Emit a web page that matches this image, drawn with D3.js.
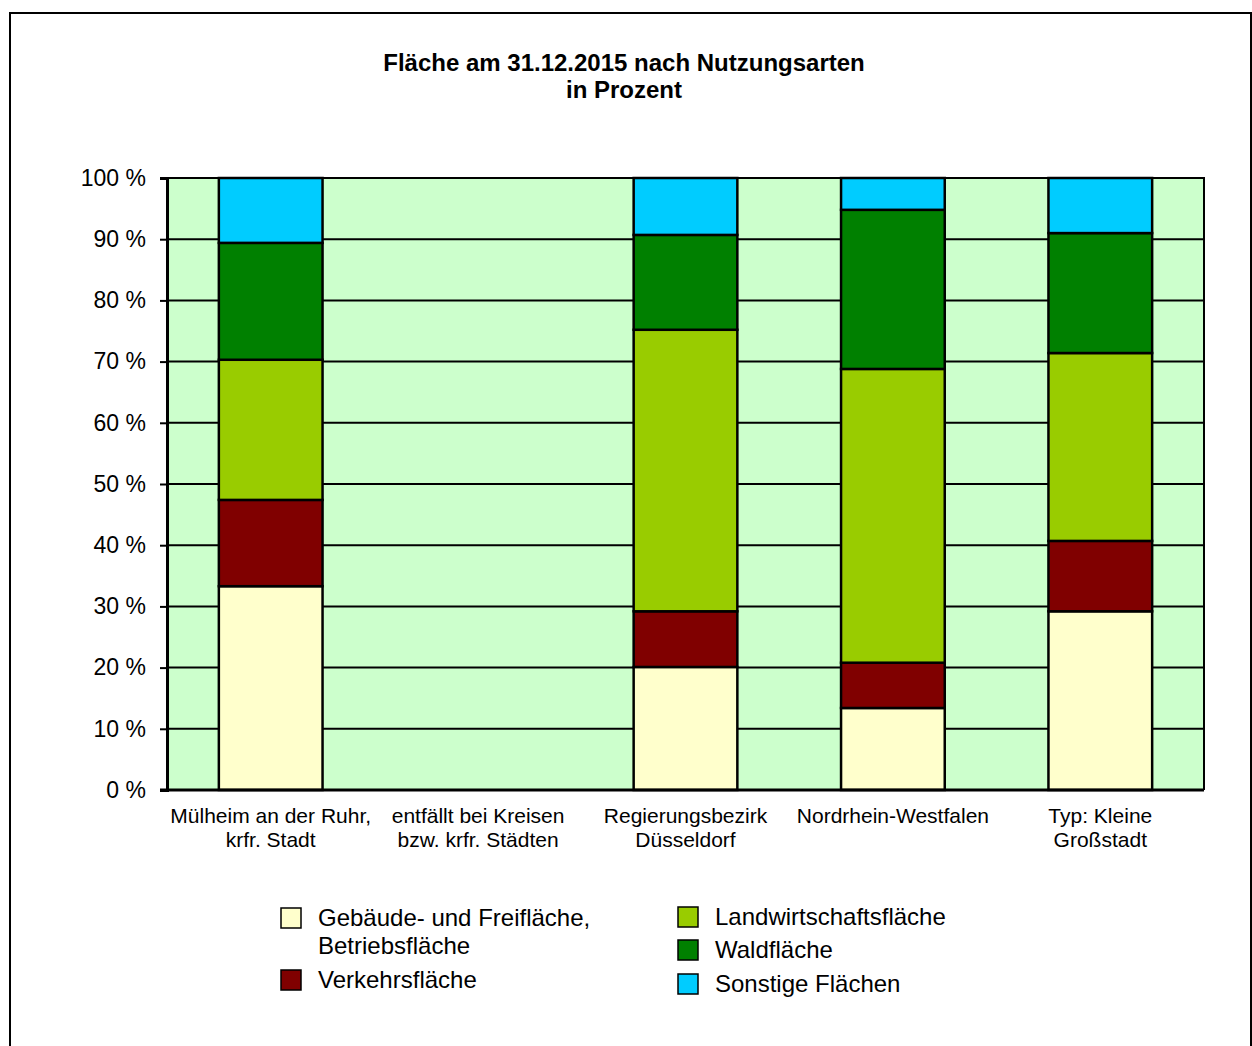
<!DOCTYPE html>
<html>
<head>
<meta charset="utf-8">
<script src="https://cdn.jsdelivr.net/npm/d3@7"></script>
<style>
  body { margin: 0; background: #fff; }
  svg { display: block; font-family: "Liberation Sans", Arial, sans-serif; }
</style>
</head>
<body>
<svg id="chart" width="1252" height="1046"></svg>
<script>
"use strict";

// Chart data
var categories = [
    ["Mülheim an der Ruhr,", "krfr. Stadt"],
    ["entfällt bei Kreisen", "bzw. krfr. Städten"],
    ["Regierungsbezirk", "Düsseldorf"],
    ["Nordrhein-Westfalen"],
    ["Typ: Kleine", "Großstadt"]
];
var seriesNames = ["Gebäude- und Freifläche, Betriebsfläche", "Verkehrsfläche",
    "Landwirtschaftsfläche", "Waldfläche", "Sonstige Flächen"];
var seriesColors = ["#ffffcc", "#800000", "#99cc00", "#008000", "#00ccff"];

var gebaeude     = [33.3, 0, 20.1, 13.4, 29.2];
var verkehr      = [14.1, 0,  9.1,  7.4, 11.5];
var landwirt     = [22.9, 0, 46.0, 48.0, 30.7];
var wald         = [19.1, 0, 15.5, 26.0, 19.6];
var sonstige     = [10.6, 0,  9.3,  5.2,  9.0];

var yTicks = [0, 10, 20, 30, 40, 50, 60, 70, 80, 90, 100];

var svg = d3.select("#chart");

// outer frame
svg.append("rect")
    .attr("x", 10).attr("y", 13)
    .attr("width", 1241).attr("height", 1050)
    .attr("fill", "none").attr("stroke", "#000").attr("stroke-width", 2);

// title
var title = svg.append("text")
    .attr("x", 624).attr("text-anchor", "middle")
    .style("font-weight", "bold").style("font-size", "24px");
title.append("tspan").attr("x", 624).attr("y", 71).text("Fläche am 31.12.2015 nach Nutzungsarten");
title.append("tspan").attr("x", 624).attr("y", 98).text("in Prozent");

var plot = { left: 167, right: 1204, top: 178, bottom: 790 };

var x = d3.scaleBand()
    .domain(d3.range(categories.length))
    .range([plot.left, plot.right])
    .paddingInner(0.5)
    .paddingOuter(0.25);

var y = d3.scaleLinear().domain([0, 100]).range([plot.bottom, plot.top]);

// plot background
svg.append("rect")
    .attr("x", plot.left).attr("y", plot.top)
    .attr("width", plot.right - plot.left).attr("height", plot.bottom - plot.top)
    .attr("fill", "#ccffcc");

// gridlines
svg.append("g")
    .selectAll("line")
    .data(yTicks.slice(1))
    .join("line")
    .attr("x1", plot.left).attr("x2", plot.right)
    .attr("y1", function(d) { return y(d); })
    .attr("y2", function(d) { return y(d); })
    .attr("stroke", "#000").attr("stroke-width", 2);

// stacked bars
var rows = categories.map(function(c, i) {
    return { idx: i, s0: gebaeude[i], s1: verkehr[i], s2: landwirt[i], s3: wald[i], s4: sonstige[i] };
});
var stack = d3.stack().keys(["s0", "s1", "s2", "s3", "s4"]);
var layers = stack(rows);

svg.append("g")
    .selectAll("g")
    .data(layers)
    .join("g")
    .attr("fill", function(d, i) { return seriesColors[i]; })
    .selectAll("rect")
    .data(function(d) { return d.filter(function(p) { return p[1] - p[0] > 0; }); })
    .join("rect")
    .attr("x", function(d) { return x(d.data.idx); })
    .attr("width", x.bandwidth())
    .attr("y", function(d) { return y(d[1]); })
    .attr("height", function(d) { return y(d[0]) - y(d[1]); })
    .attr("stroke", "#000").attr("stroke-width", 2.5);

// plot border (top & right)
svg.append("path")
    .attr("d", "M" + plot.left + "," + plot.top + "H" + plot.right + "V" + plot.bottom)
    .attr("fill", "none").attr("stroke", "#000").attr("stroke-width", 2);

// y axis
var yAxis = svg.append("g")
    .attr("transform", "translate(" + plot.left + ",0)")
    .call(d3.axisLeft(y).tickValues(yTicks).tickSize(7).tickPadding(14)
        .tickFormat(function(d) { return d + " %"; }));
yAxis.select(".domain").attr("stroke", "#000").attr("stroke-width", 3);
yAxis.selectAll(".tick line").attr("stroke", "#000").attr("stroke-width", 2);
yAxis.selectAll(".tick text")
    .style("font-size", "23px").style("font-family", "Liberation Sans, Arial, sans-serif")
    .attr("fill", "#000");

// x axis line
svg.append("line")
    .attr("x1", plot.left - 7).attr("x2", plot.right)
    .attr("y1", plot.bottom).attr("y2", plot.bottom)
    .attr("stroke", "#000").attr("stroke-width", 3);

// x labels
svg.append("g")
    .selectAll("text")
    .data(categories)
    .join("text")
    .attr("text-anchor", "middle")
    .style("font-size", "21px")
    .each(function(lines, i) {
        var cx = x(i) + x.bandwidth() / 2;
        d3.select(this).selectAll("tspan")
            .data(lines)
            .join("tspan")
            .attr("x", cx)
            .attr("y", function(d, j) { return 823 + j * 24; })
            .text(function(d) { return d; });
    });

// legend
var legendItems = [
    { s: 0, x: 281, y: 908, lines: ["Gebäude- und Freifläche,", "Betriebsfläche"] },
    { s: 1, x: 281, y: 970, lines: ["Verkehrsfläche"] },
    { s: 2, x: 678, y: 907, lines: ["Landwirtschaftsfläche"] },
    { s: 3, x: 678, y: 940, lines: ["Waldfläche"] },
    { s: 4, x: 678, y: 974, lines: ["Sonstige Flächen"] }
];
var leg = svg.append("g").selectAll("g").data(legendItems).join("g");
leg.append("rect")
    .attr("x", function(d) { return d.x; })
    .attr("y", function(d) { return d.y; })
    .attr("width", 20).attr("height", 20)
    .attr("fill", function(d) { return seriesColors[d.s]; })
    .attr("stroke", "#000").attr("stroke-width", 1.5);
leg.append("text")
    .style("font-size", "24px")
    .each(function(d) {
        d3.select(this).selectAll("tspan")
            .data(d.lines)
            .join("tspan")
            .attr("x", d.x + 37)
            .attr("y", function(t, j) { return d.y + 18 + j * 28; })
            .text(function(t) { return t; });
    });
</script>
</body>
</html>
